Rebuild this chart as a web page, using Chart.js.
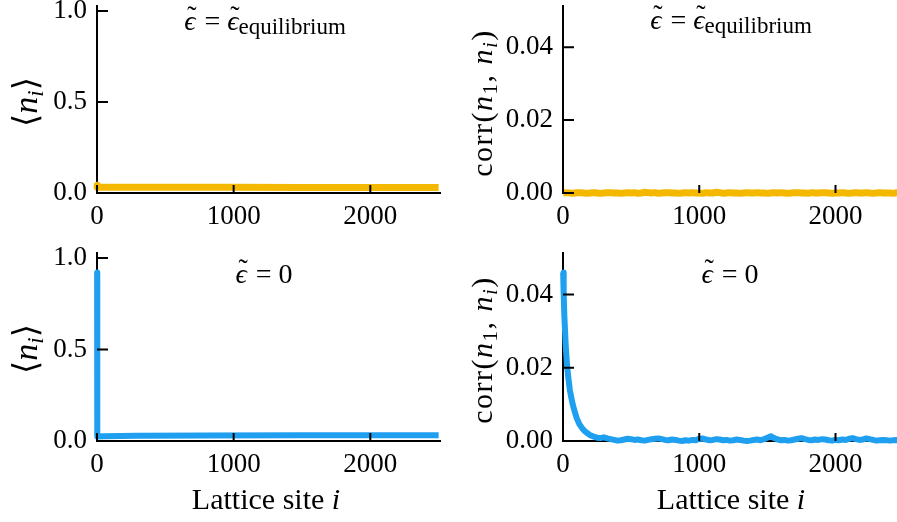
<!DOCTYPE html>
<html>
<head>
<meta charset="utf-8">
<script src="https://cdn.jsdelivr.net/npm/chart.js@4.4.1/dist/chart.umd.min.js"></script>
<style>
  html, body { margin: 0; padding: 0; background: #fff; overflow: hidden; }
  #wrap { position: relative; width: 897px; height: 522px; overflow: hidden; }
  canvas { position: absolute; }
  .txt { position: absolute; font-family: "Liberation Serif", "DejaVu Serif", serif; color: #000; white-space: nowrap; line-height: 1; }
  .ttl { font-size: 28px; transform: translateX(-50%); }
  .ttl .sub { font-size: 23px; position: relative; top: 4px; }
  .ttl .eq { margin: 0 7px 0 9px; }
  .eps { position: relative; display: inline-block; }
  .tld { position: absolute; left: 3px; top: -5px; font-style: normal; font-size: 28px; }
  .ylab { font-size: 34px; transform: translate(-50%, -50%) rotate(-90deg); }
  .ylab .sub { font-size: 23px; position: relative; top: 6px; }
  .corr { font-size: 30px; letter-spacing: 1.5px; }
  .corr .sub { font-size: 21px; top: 5px; }
  .xlab { font-size: 30px; transform: translateX(-50%); }
  i { font-style: italic; }
</style>
</head>
<body>
<div id="wrap">
  <canvas id="nEq" width="450" height="240" style="left:0;top:0"></canvas>
  <canvas id="corrEq" width="480" height="240" style="left:450px;top:0"></canvas>
  <canvas id="nZero" width="450" height="282" style="left:0;top:240px"></canvas>
  <canvas id="corrZero" width="480" height="282" style="left:450px;top:240px"></canvas>

  <div class="txt ttl" style="left:265px;top:7px"><span class="eps"><i>ϵ</i><span class="tld">˜</span></span><span class="eq">=</span><span class="eps"><i>ϵ</i><span class="tld">˜</span></span><span class="sub">equilibrium</span></div>
  <div class="txt ttl" style="left:731px;top:6px"><span class="eps"><i>ϵ</i><span class="tld">˜</span></span><span class="eq">=</span><span class="eps"><i>ϵ</i><span class="tld">˜</span></span><span class="sub">equilibrium</span></div>
  <div class="txt ttl" style="left:264px;top:260px"><span class="eps"><i>ϵ</i><span class="tld">˜</span></span><span class="eq">=</span>0</div>
  <div class="txt ttl" style="left:730px;top:260px"><span class="eps"><i>ϵ</i><span class="tld">˜</span></span><span class="eq">=</span>0</div>

  <div class="txt ylab" style="left:26px;top:102px">⟨<i>n</i><span class="sub"><i>i</i></span>⟩</div>
  <div class="txt ylab" style="left:26px;top:349px">⟨<i>n</i><span class="sub"><i>i</i></span>⟩</div>
  <div class="txt ylab corr" style="left:482px;top:103px">corr(<i>n</i><span class="sub">1</span>, <i>n</i><span class="sub"><i>i</i></span>)</div>
  <div class="txt ylab corr" style="left:482px;top:350px">corr(<i>n</i><span class="sub">1</span>, <i>n</i><span class="sub"><i>i</i></span>)</div>

  <div class="txt xlab" style="left:266px;top:484px">Lattice site <i>i</i></div>
  <div class="txt xlab" style="left:731px;top:484px">Lattice site <i>i</i></div>
</div>

<script>
// ---- axis ticks ----
const siteTicks = [0, 1000, 2000];
const nTicks = [0, 0.5, 1];
const corrTicks = [0, 0.02, 0.04];
const siteMax = 2510;

// ---- occupation <n_i>, equilibrium drive ----
const nEqSites = [1, 2, 500, 1000, 1500, 2000, 2500];
const nEqValues = [0.042, 0.031, 0.031, 0.031, 0.030, 0.030, 0.030];

// ---- occupation <n_i>, zero drive ----
const nZeroSites = [1, 2, 50, 300, 800, 1500, 2500];
const nZeroValues = [0.92, 0.024, 0.026, 0.028, 0.030, 0.031, 0.031];

// ---- corr(n_1, n_i), equilibrium drive (every 25 sites) ----
const corrEqValues = [
  0.0000, 0.0001, 0.0000, -0.0001, 0.0001, 0.0001, 0.0000, -0.0001, 0.0000, 0.0001,
  0.0000, -0.0001, 0.0000, 0.0001, 0.0001, 0.0000, 0.0000, -0.0001, 0.0000, 0.0001,
  0.0000, 0.0001, -0.0001, 0.0000, 0.0002, 0.0001, 0.0000, 0.0001, -0.0001, 0.0000,
  0.0001, 0.0001, 0.0000, 0.0000, -0.0001, 0.0000, 0.0001, 0.0000, 0.0001, 0.0000,
  0.0000, -0.0001, 0.0001, 0.0000, 0.0000, 0.0002, 0.0001, -0.0001, 0.0000, 0.0001,
  0.0000, 0.0000, -0.0001, 0.0000, 0.0001, 0.0000, 0.0000, 0.0001, 0.0000, 0.0000,
  -0.0001, 0.0000, 0.0001, 0.0000, 0.0001, 0.0000, -0.0001, 0.0000, 0.0001, 0.0001,
  0.0000, 0.0000, -0.0001, 0.0001, 0.0000, 0.0000, 0.0001, 0.0001, 0.0000, -0.0001,
  0.0000, 0.0000, 0.0001, 0.0000, -0.0001, 0.0000, 0.0001, 0.0000, 0.0000, 0.0001,
  0.0000, -0.0001, 0.0000, 0.0001, 0.0000, 0.0000, 0.0000, -0.0001, 0.0001, 0.0000,
  0.0000
];

// ---- corr(n_1, n_i), zero drive: decay near the first site ----
const corrZeroDecaySites = [1, 5, 10, 20, 30, 40, 50, 60, 70, 80, 90, 100, 120, 140, 160, 180, 200, 225];
const corrZeroDecayValues = [0.046, 0.040, 0.034, 0.026, 0.0205, 0.017, 0.014, 0.012, 0.0102, 0.0088,
  0.0075, 0.0063, 0.0046, 0.0035, 0.0027, 0.0021, 0.0016, 0.0012];

// ---- corr(n_1, n_i), zero drive: tail from site 250 (every 25 sites) ----
const corrZeroTailValues = [
  0.0009, 0.0008, 0.0010, 0.0007, 0.0005, 0.0003, 0.0001, 0.0002, 0.0004, 0.0006,
  0.0005, 0.0003, 0.0004, 0.0002, 0.0001, 0.0003, 0.0005, 0.0006, 0.0007, 0.0005,
  0.0003, 0.0002, 0.0004, 0.0003, 0.0001, 0.0000, 0.0002, 0.0001, 0.0003, 0.0002,
  0.0006, 0.0007, 0.0004, 0.0002, 0.0003, 0.0005, 0.0004, 0.0002, 0.0003, 0.0001,
  0.0002, 0.0004, 0.0003, 0.0001, 0.0000, 0.0001, 0.0003, 0.0004, 0.0002, 0.0005,
  0.0009, 0.0013, 0.0008, 0.0004, 0.0002, 0.0003, 0.0001, 0.0002, 0.0004, 0.0006,
  0.0008, 0.0005, 0.0003, 0.0002, 0.0004, 0.0003, 0.0005, 0.0004, 0.0002, 0.0001,
  0.0003, 0.0002, 0.0004, 0.0003, 0.0006, 0.0008, 0.0005, 0.0003, 0.0004, 0.0007,
  0.0005, 0.0003, 0.0001, 0.0002, 0.0003, 0.0002, 0.0001, 0.0002, 0.0003, 0.0002,
  0.0001
];

const yellow = '#f4b800';
const blue = '#1f9ff0';
const tickFont = { family: '"Liberation Serif", "DejaVu Serif", serif', size: 27 };

function toPoints(sites, values) {
  return values.map((v, k) => ({ x: sites[k], y: v }));
}

// inward tick marks on both axes, drawn above the line
const innerTicks = {
  id: 'innerTicks',
  afterDraw(chart) {
    const { ctx, chartArea, scales: { x, y } } = chart;
    ctx.save();
    ctx.strokeStyle = '#000';
    ctx.lineWidth = 2;
    ctx.beginPath();
    x.ticks.forEach(t => {
      const px = x.getPixelForValue(t.value);
      ctx.moveTo(px, chartArea.bottom);
      ctx.lineTo(px, chartArea.bottom - 8);
    });
    y.ticks.forEach(t => {
      const py = y.getPixelForValue(t.value);
      ctx.moveTo(chartArea.left, py);
      ctx.lineTo(chartArea.left + 11, py);
    });
    ctx.stroke();
    ctx.restore();
  }
};

// no extra room for half-labels at the axis ends, the plot box is fixed
function noEdgePadding(s) {
  s.paddingTop = 0;
  s.paddingBottom = 0;
  s.paddingLeft = 0;
  s.paddingRight = 0;
}

function panel(id, area, color, lineWidth, points, yMax, yTicks, digits) {
  const canvas = document.getElementById(id);
  const W = canvas.width, H = canvas.height;
  return new Chart(canvas, {
    type: 'line',
    data: {
      datasets: [{
        data: points,
        borderColor: color,
        borderWidth: lineWidth,
        pointRadius: 0,
        tension: 0,
        clip: false,
        borderJoinStyle: 'round'
      }]
    },
    options: {
      responsive: false,
      animation: false,
      events: [],
      layout: { padding: { top: area.top, right: W - area.right, left: 0, bottom: 0 } },
      plugins: { legend: { display: false }, tooltip: { enabled: false } },
      scales: {
        x: {
          type: 'linear', min: 0, max: siteMax, z: 1,
          grid: { display: false, drawTicks: false },
          border: { display: true, color: '#000', width: 2 },
          afterBuildTicks: s => { s.ticks = siteTicks.map(v => ({ value: v })); },
          afterFit: s => { s.height = H - area.bottom; noEdgePadding(s); },
          ticks: { font: tickFont, color: '#000', padding: 8, maxRotation: 0, autoSkip: false,
                   callback: v => v.toFixed(0) }
        },
        y: {
          type: 'linear', min: 0, max: yMax, z: 1,
          grid: { display: false, drawTicks: false },
          border: { display: true, color: '#000', width: 2 },
          afterBuildTicks: s => { s.ticks = yTicks.map(v => ({ value: v })); },
          afterFit: s => { s.width = area.left; noEdgePadding(s); },
          ticks: { font: tickFont, color: '#000', padding: 10, autoSkip: false,
                   callback: v => v.toFixed(digits) }
        }
      }
    },
    plugins: [innerTicks]
  });
}

panel('nEq', { left: 97, top: 6, right: 440, bottom: 193 }, yellow, 7,
      toPoints(nEqSites, nEqValues), 1.027, nTicks, 1);

panel('corrEq', { left: 113, top: 6, right: 455, bottom: 193 }, yellow, 7,
      toPoints(corrEqValues.map((_, k) => Math.max(1, 25 * k)), corrEqValues), 0.0513, corrTicks, 2);

panel('nZero', { left: 97, top: 13, right: 440, bottom: 201 }, blue, 6,
      toPoints(nZeroSites, nZeroValues), 1.027, nTicks, 1);

panel('corrZero', { left: 113, top: 13, right: 455, bottom: 201 }, blue, 6,
      toPoints(corrZeroDecaySites.concat(corrZeroTailValues.map((_, k) => 250 + 25 * k)),
               corrZeroDecayValues.concat(corrZeroTailValues)), 0.0513, corrTicks, 2);
</script>
</body>
</html>
